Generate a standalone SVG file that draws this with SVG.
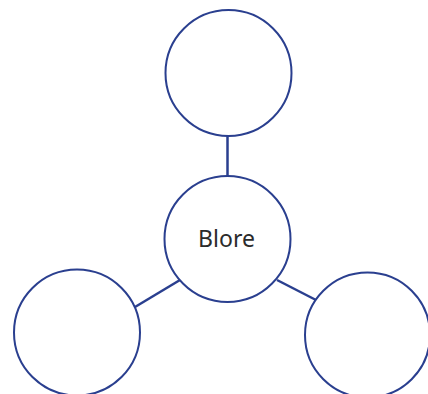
<svg xmlns="http://www.w3.org/2000/svg" width="428" height="394" viewBox="0 0 428 394">
<style>
.node{fill:#ffffff;stroke:#2a3f8f;stroke-width:2}
.edge{stroke:#2a3f8f;stroke-width:2.5;fill:none}
.label{font-family:"Noto Sans","Open Sans",sans-serif;font-size:23px;fill:#2b2b2b;text-anchor:middle}
</style>
<rect width="428" height="394" fill="#ffffff"/>
<g id="connectors">
<line class="edge" x1="227.5" y1="136" x2="227.5" y2="176"/>
<line class="edge" x1="180" y1="280" x2="135" y2="307"/>
<line class="edge" x1="277" y1="280" x2="316" y2="300"/>
</g>
<g id="node-top"><circle class="node" cx="228.5" cy="73" r="63"/></g>
<g id="node-center"><circle class="node" cx="227.5" cy="239" r="63"/><text class="label" x="226.5" y="247">Blore</text></g>
<g id="node-left"><circle class="node" cx="77" cy="332.5" r="63"/></g>
<g id="node-right"><circle class="node" cx="367.5" cy="335" r="62.5"/></g>
</svg>
